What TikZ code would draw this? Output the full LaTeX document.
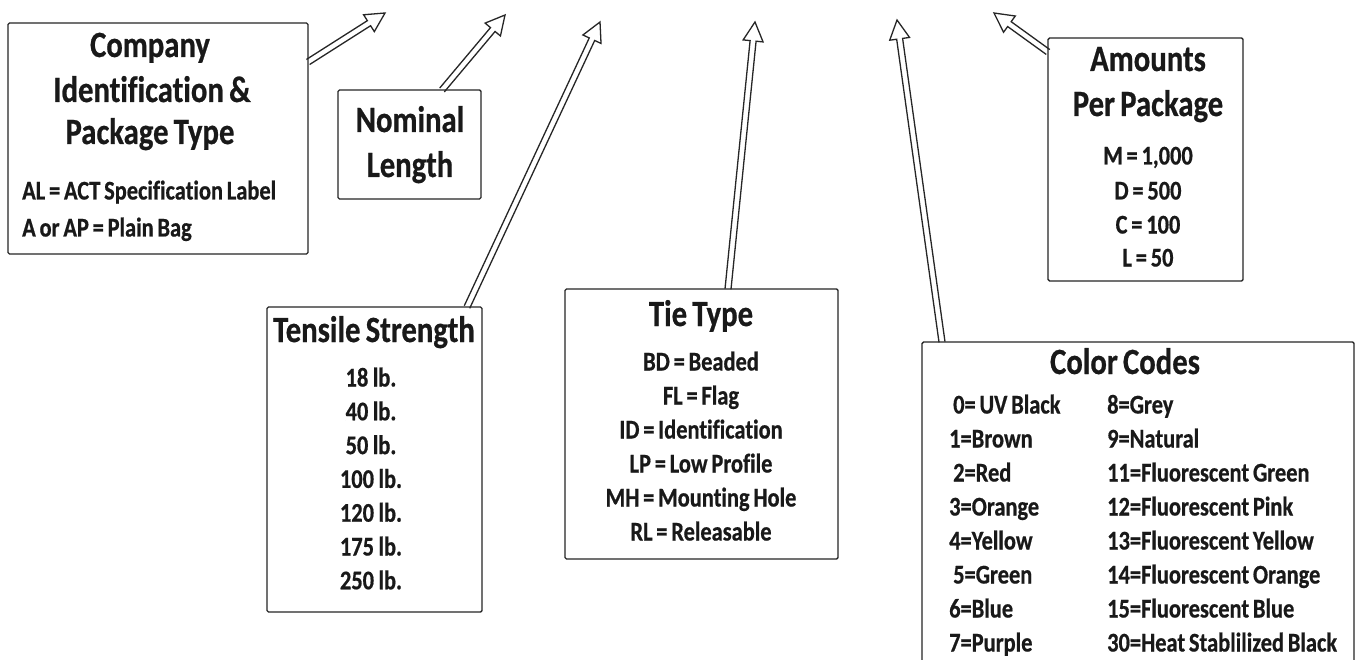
\documentclass[tikz,border=0pt]{standalone}
\usepackage{fontspec}
\setmainfont{Carlito}[FakeStretch=0.83, Ligatures=NoCommon, WordSpace=0.75, FakeBold=0.6]
\usetikzlibrary{calc}
\newcommand\blockarrow[2]{%
  \coordinate (bh) at ($(#2)!19pt!(#1)$);
  \path[arr] ($(#1)!3pt!90:(#2)$) -- ($(bh)!3pt!90:(#2)$) -- ($(bh)!10pt!90:(#2)$) -- (#2)
     -- ($(bh)!10pt!-90:(#2)$) -- ($(bh)!3pt!-90:(#2)$) -- ($(#1)!3pt!-90:(#2)$);
}
\begin{document}
\begin{tikzpicture}[x=1pt,y=-1pt,
  box/.style={draw=black!85, line width=1.4pt, rounded corners=1.5pt, inner sep=0pt, outer sep=0pt, anchor=north west},
  ttl/.style={font=\fontsize{37}{44}\selectfont\bfseries, text=black!90, inner sep=0pt, text height=26pt, text depth=8pt},
  ent/.style={font=\fontsize{27}{32}\selectfont\bfseries, text=black!90, inner sep=0pt, text height=19pt, text depth=6pt},
  entl/.style={ent, anchor=west},
  arr/.style={draw=black!85, line width=1.3pt, line join=miter}]
\useasboundingbox (0,0) rectangle (1356,660);
\fill[white] (0,0) rectangle (1356,660);
\clip (0,0) rectangle (1356,660);

% boxes
\node[box, minimum width=300pt, minimum height=231pt] (company) at (8,23) {};
\node[box, minimum width=143pt, minimum height=109pt] (nominal) at (338,90) {};
\node[box, minimum width=215pt, minimum height=305pt] (tensile) at (267,307) {};
\node[box, minimum width=273pt, minimum height=270pt] (tie) at (565,289) {};
\node[box, minimum width=432pt, minimum height=340pt] (color) at (922,342) {};
\node[box, minimum width=195pt, minimum height=243pt] (amount) at (1048,38) {};

% company
\node[ttl] (c1) at (150,48) {Company};
\node[ttl] (c2) at (152,93) {Identification \&};
\node[ttl] (c3) at (150,135) {Package Type};
\node[entl] (c4) at (22,193) {AL = ACT Specification Label};
\node[entl] (c5) at (22,230) {A or AP = Plain Bag};

% nominal
\node[ttl] (n1) at (410,123) {Nominal};
\node[ttl] (n2) at (410,168) {Length};

% tensile
\node[ttl] (t0) at (374,333) {Tensile Strength};
\foreach \s [count=\i from 0] in {18,40,50,100,120,175,250}
  \node[ent] (t\s) at (371,{380+33.8*\i}) {\s\,lb.};

% tie type
\node[ttl] (y0) at (701,317) {Tie Type};
\foreach \s [count=\i from 0] in {BD = Beaded, FL = Flag, ID = Identification, LP = Low Profile, MH = Mounting Hole, RL = Releasable}
  \node[ent] (y\i) at (701,{364+34*\i}) {\s};

% amounts
\node[ttl] (a1) at (1148,62) {Amounts};
\node[ttl] (a2) at (1148,107) {Per Package};
\node[ent] (a3) at (1148,158) {M = 1,000};
\node[ent] (a4) at (1148,193) {D = 500};
\node[ent] (a5) at (1148,227) {C = 100};
\node[ent] (a6) at (1148,260) {L = 50};

% color codes
\node[ttl] (k0) at (1125,365) {Color Codes};
\foreach \s/\dx [count=\i from 0] in {0= UV Black/4, 1=Brown/0, 2=Red/4, 3=Orange/0, 4=Yellow/0, 5=Green/4, 6=Blue/0, 7=Purple/0}
  \node[entl] (kl\i) at ({949+\dx},{407+34*\i}) {\s};
\foreach \s [count=\i from 0] in {8=Grey, 9=Natural, 11=Fluorescent Green, 12=Fluorescent Pink, 13=Fluorescent Yellow, 14=Fluorescent Orange, 15=Fluorescent Blue, 30=Heat Stablilized Black}
  \node[entl] (kr\i) at (1107,{407+34*\i}) {\s};

% arrow ends
\coordinate (s1) at ($(company.north east)+(0,39)$);
\coordinate (e1) at (385,13);
\coordinate (s2) at ($(nominal.north west)+(104,0)$);
\coordinate (e2) at (505,15);
\coordinate (s3) at ($(tensile.north west)+(200,0)$);
\coordinate (e3) at (600,22);
\coordinate (s4) at ($(tie.north west)+(163,0)$);
\coordinate (e4) at (755,22);
\coordinate (s5) at ($(color.north west)+(20,0)$);
\coordinate (e5) at (897,20);
\coordinate (s6) at ($(amount.north west)+(0,14)$);
\coordinate (e6) at (994,13);

\blockarrow{s1}{e1}
\blockarrow{s2}{e2}
\blockarrow{s3}{e3}
\blockarrow{s4}{e4}
\blockarrow{s5}{e5}
\blockarrow{s6}{e6}
\end{tikzpicture}
\end{document}
